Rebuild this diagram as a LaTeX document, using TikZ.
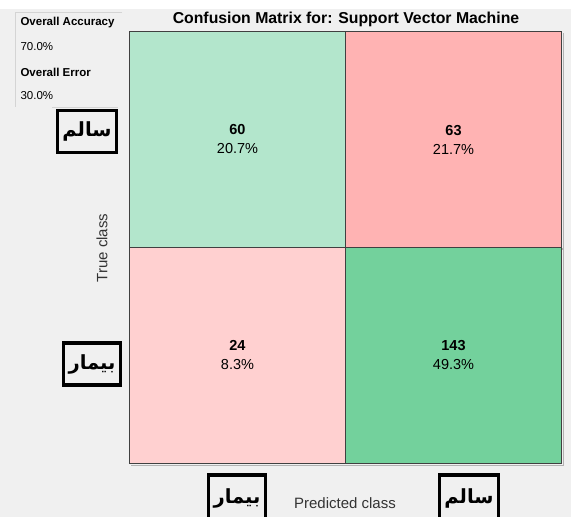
\documentclass[tikz,border=0pt]{standalone}
\usepackage{fontspec}
\setmainfont{Liberation Sans}
\newfontfamily\arabicfont[Script=Arabic]{DejaVu Sans}
\TeXXeTstate=1
\usepackage{xcolor}
\definecolor{panel-gray}{HTML}{F0F0F0}
\definecolor{frame-gray}{HTML}{D4D4D4}
\definecolor{hit-light}{HTML}{B3E6CC}
\definecolor{hit-dark}{HTML}{73D19C}
\definecolor{miss-dark}{HTML}{FFB3B3}
\definecolor{miss-light}{HTML}{FFD0D0}
\tikzset{
    cm-cell/.style = {draw=black!75, line width=1.2pt, rectangle, minimum width=216pt, minimum height=216pt, inner sep=0pt, align=center, font=\fontsize{14.5}{19}\selectfont},
    class-box/.style = {draw=black, line width=3.5pt, fill=panel-gray, rectangle, inner xsep=5pt, minimum height=42pt, font=\arabicfont\bfseries\fontsize{19.5}{23}\selectfont},
    stat-title/.style = {anchor=west, font=\bfseries\fontsize{11.5}{13}\selectfont},
    stat-value/.style = {anchor=west, font=\fontsize{11.5}{13}\selectfont},
    axis-label/.style = {text=black!80, font=\fontsize{15}{18}\selectfont},
}

\begin{document}
\begin{tikzpicture}[x=1pt, y=-1pt]
\useasboundingbox (0,0) rectangle (571,517);
\clip (0,0) rectangle (571,517);
\fill[panel-gray] (0,9) rectangle (571,517);
\fill[white] (0,0) rectangle (571,9);

% summary panel
\draw[frame-gray] (122,12) -- (15,12) -- (15,107);
\draw[frame-gray] (52,107) -- (118,107);
\node[stat-title] (acc-title) at (17,23) {Overall Accuracy};
\node[stat-value] (acc-value) at (17,47) {70.0\%};
\node[stat-title] (err-title) at (17,72) {Overall Error};
\node[stat-value] (err-value) at (17,96) {30.0\%};

\node[font=\bfseries\fontsize{15.8}{18}\selectfont] (title) at (346,19) {Confusion Matrix for: Support Vector Machine};

% shadow of the grid
\draw[black!30, line width=1.5pt] (563.5,33) -- (563.5,465.5) -- (131,465.5);
\draw[black!30, line width=1.5pt] (131,249) -- (563.5,249);

% cells
\node[cm-cell, fill=hit-light] (tp) at (237.5,139.5) {\textbf{60}\\20.7\%};
\node[cm-cell, fill=miss-dark] (fn) at (453.5,139.5) {\textbf{63}\\21.7\%};
\node[cm-cell, fill=miss-light] (fp) at (237.5,355.5) {\textbf{24}\\8.3\%};
\node[cm-cell, fill=hit-dark] (tn) at (453.5,355.5) {\textbf{143}\\49.3\%};

% axis labels
\node[axis-label, rotate=90] (true-label) at (102,248) {True class};
\node[axis-label] (pred-label) at (345,503) {Predicted class};

\node[class-box] (row-healthy) at (87,131.5) {\beginR سالم\endR};
\node[class-box] (row-sick) at (92,364) {\beginR بیمار\endR};
\node[class-box, minimum height=46pt] (col-sick) at (237,498) {\beginR بیمار\endR};
\node[class-box, minimum height=46pt] (col-healthy) at (469,498) {\beginR سالم\endR};
\end{tikzpicture}
\end{document}
